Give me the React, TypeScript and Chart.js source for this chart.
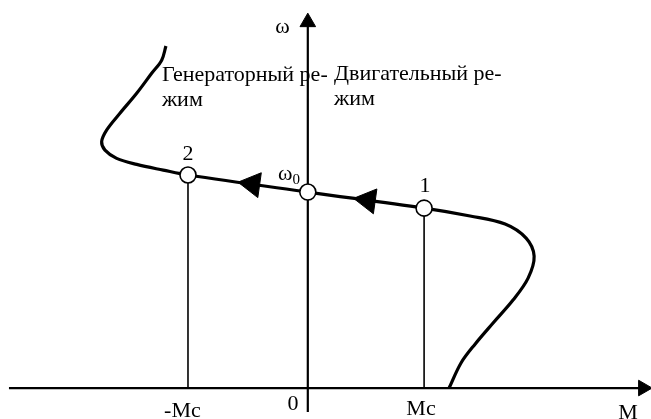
import React, { useEffect, useRef } from "react";
import { Chart, registerables } from "chart.js";

Chart.register(...registerables);

// Mechanical characteristic ω(M): torque M on the horizontal axis, speed ω on the vertical.
const curveM = [
  -1.203, -1.239, -1.324, -1.451, -1.593, -1.706, -1.748, -1.72, -1.621, -1.451, -1.226,
  -1.016, 0, 0.986, 1.376, 1.673, 1.851, 1.919, 1.868, 1.74, 1.571, 1.418, 1.299, 1.198,
];
const curveW = [
  1.745, 1.673, 1.606, 1.504, 1.402, 1.316, 1.257, 1.214, 1.172, 1.141, 1.112, 1.087, 1.0,
  0.918, 0.878, 0.837, 0.765, 0.673, 0.561, 0.449, 0.332, 0.224, 0.128, 0,
];

// Operating points: 2 (generator), ω0 (idle), 1 (motor)
const pointM = [-1.016, 0, 0.986];
const pointW = [1.087, 1.0, 0.918];

// Direction arrows drawn on the characteristic
const arrowM = [-0.47, 0.51];
const arrowW = [1.0402, 0.9576];

// Load torque levels ±Mc
const loadM = [-1.016, 0.986];
const loadW = [1.087, 0.918];

// Axis extents
const axisMFrom = -2.534;
const axisMTo = 2.86;
const axisWFrom = -0.122;
const axisWTo = 1.852;
const axisArrowM = 2.843;
const axisArrowW = 1.867;

// Text labels in data coordinates
const labels = [
  { text: "ω", m: -0.215, w: 1.811, align: "center" },
  { text: "Генераторный ре-", m: -1.237, w: 1.566, align: "left" },
  { text: "жим", m: -1.237, w: 1.439, align: "left" },
  { text: "Двигательный ре-", m: 0.222, w: 1.571, align: "left" },
  { text: "жим", m: 0.222, w: 1.444, align: "left" },
  { text: "2", m: -1.016, w: 1.163, align: "center" },
  { text: "1", m: 0.994, w: 1.0, align: "center" },
  { text: "-Mc", m: -1.063, w: -0.148, align: "center" },
  { text: "0", m: -0.126, w: -0.112, align: "center" },
  { text: "Mc", m: 0.96, w: -0.138, align: "center" },
  { text: "M", m: 2.716, w: -0.158, align: "center" },
];
const omega0Label = { main: "ω", sub: "0", m: -0.253, w: 1.061 };

const FONT = '"Liberation Serif", "Times New Roman", serif';

const textPlugin = {
  id: "diagramText",
  afterDatasetsDraw(chart: any) {
    const { ctx, scales } = chart;
    const xs = scales.x;
    const ys = scales.y;
    ctx.save();
    ctx.fillStyle = "#000";
    ctx.textBaseline = "alphabetic";
    ctx.font = `22px ${FONT}`;
    for (const l of labels) {
      ctx.textAlign = l.align as CanvasTextAlign;
      ctx.fillText(l.text, xs.getPixelForValue(l.m), ys.getPixelForValue(l.w));
    }
    const ox = xs.getPixelForValue(omega0Label.m);
    const oy = ys.getPixelForValue(omega0Label.w);
    ctx.textAlign = "left";
    ctx.fillText(omega0Label.main, ox, oy);
    const wWidth = ctx.measureText(omega0Label.main).width;
    ctx.font = `15px ${FONT}`;
    ctx.fillText(omega0Label.sub, ox + wWidth, oy + 4);
    ctx.restore();
  },
};

export default function App() {
  const canvasRef = useRef<HTMLCanvasElement | null>(null);

  useEffect(() => {
    const canvas = canvasRef.current;
    if (!canvas) return;

    const curve = curveM.map((m, i) => ({ x: m, y: curveW[i] }));
    const points = pointM.map((m, i) => ({ x: m, y: pointW[i] }));
    const arrows = arrowM.map((m, i) => ({ x: m, y: arrowW[i] }));
    const drops = loadM.map((m, i) => ({
      data: [
        { x: m, y: 0 },
        { x: m, y: loadW[i] },
      ],
      showLine: true,
      borderColor: "#000",
      borderWidth: 1.6,
      pointRadius: 0,
      clip: false,
      order: 3,
    }));

    const chart = new Chart(canvas, {
      type: "scatter",
      data: {
        datasets: [
          {
            data: points,
            pointStyle: "circle",
            pointRadius: 8,
            pointBackgroundColor: "#fff",
            pointBorderColor: "#000",
            pointBorderWidth: 1.6,
            clip: false,
            order: 0,
          },
          {
            data: arrows,
            pointStyle: "triangle",
            pointRadius: 14.5,
            pointRotation: 278,
            pointBackgroundColor: "#000",
            pointBorderColor: "#000",
            pointBorderWidth: 1,
            clip: false,
            order: 1,
          },
          {
            data: curve,
            showLine: true,
            tension: 0.35,
            borderColor: "#000",
            borderWidth: 3.2,
            pointRadius: 0,
            clip: false,
            order: 2,
          },
          ...drops,
          {
            // horizontal axis M
            data: [
              { x: axisMFrom, y: 0 },
              { x: axisMTo, y: 0 },
            ],
            showLine: true,
            borderColor: "#000",
            borderWidth: 2.2,
            pointRadius: 0,
            clip: false,
            order: 4,
          },
          {
            // vertical axis ω
            data: [
              { x: 0, y: axisWFrom },
              { x: 0, y: axisWTo },
            ],
            showLine: true,
            borderColor: "#000",
            borderWidth: 2.2,
            pointRadius: 0,
            clip: false,
            order: 4,
          },
          {
            data: [{ x: axisArrowM, y: 0 }],
            pointStyle: "triangle",
            pointRadius: 9,
            pointRotation: 90,
            pointBackgroundColor: "#000",
            pointBorderColor: "#000",
            pointBorderWidth: 1,
            clip: false,
            order: 4,
          },
          {
            data: [{ x: 0, y: axisArrowW }],
            pointStyle: "triangle",
            pointRadius: 9,
            pointRotation: 0,
            pointBackgroundColor: "#000",
            pointBorderColor: "#000",
            pointBorderWidth: 1,
            clip: false,
            order: 4,
          },
        ],
      },
      options: {
        responsive: false,
        maintainAspectRatio: false,
        devicePixelRatio: 1,
        animation: false,
        events: [],
        layout: { padding: 0, autoPadding: false },
        plugins: {
          legend: { display: false },
          tooltip: { enabled: false },
        },
        scales: {
          x: { type: "linear", display: false, min: -2.61, max: 2.91 },
          y: { type: "linear", display: false, min: -0.158, max: 1.98 },
        },
      },
      plugins: [textPlugin],
    } as any);

    return () => chart.destroy();
  }, []);

  return (
    <div
      style={{
        position: "fixed",
        left: 0,
        top: 0,
        width: 651,
        height: 419,
        background: "#fff",
      }}
    >
      <canvas ref={canvasRef} width={651} height={419} style={{ display: "block" }} />
    </div>
  );
}
